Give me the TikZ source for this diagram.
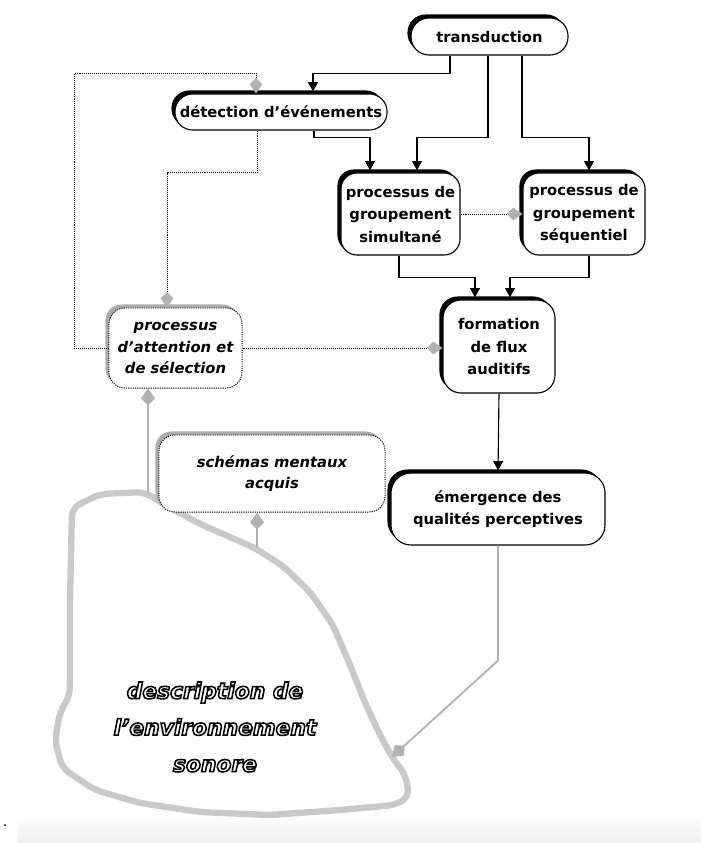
\documentclass[tikz,border=0pt]{standalone}
\usepackage{fontspec}
\setmainfont{DejaVu Sans}
\usetikzlibrary{arrows.meta,shadows,positioning,calc}

% outline text
\newcommand\hollow[1]{\special{pdf:literal direct 1 Tr 1.1 w}#1\special{pdf:literal direct 0 Tr}}

\tikzset{
  boldbox/.style={draw, line width=0.8pt, fill=white, align=center, inner sep=0pt,
    font=\fontsize{10.5}{16}\selectfont\bfseries,
    general shadow={fill=black, shadow xshift=-2.5pt, shadow yshift=2.5pt}},
  dotbox/.style={draw, line width=0.7pt, dash pattern=on 0.8pt off 0.8pt, fill=white,
    align=center, inner sep=0pt, font=\fontsize{10.5}{15}\selectfont\bfseries\itshape,
    general shadow={fill=gray!65, shadow xshift=-2.5pt, shadow yshift=2.5pt}},
  flow/.style={line width=0.8pt, -{Triangle[width=7pt,length=6.5pt]}, shorten >=1.5pt},
  hint/.style={line width=0.7pt, dash pattern=on 0.7pt off 0.7pt,
    -{Kite[width=9pt,length=11pt,inset=4.5pt,color=gray!60]}},
  feed/.style={gray!60, line width=1.3pt, -{Kite[width=10pt,length=12pt,inset=5pt]}},
}

\begin{document}
\begin{tikzpicture}[x=0.025cm, y=-0.025cm]
    \useasboundingbox (0,0) rectangle (701,843);

    % screen strip
    \shade [top color=white, bottom color=gray!12] (18,812) rectangle (701,843);
    \node (dot) at (5,826) {.};

    % sound scene
    \draw [gray!42, line width=4.5pt, rounded corners=6pt]
        (72,508) -- (100,494) -- (145,492) -- (160,502) -- (200,524) -- (255,548)
        -- (283,566) -- (310,592) -- (333,625) -- (350,665) -- (366,705) -- (380,735)
        -- (392,757) -- (406,776) -- (409,797) -- (395,805) -- (340,810) -- (270,815)
        -- (200,812) -- (140,803) -- (95,790) -- (62,768) -- (55,740) -- (60,712)
        -- (70,695) -- (70,600) -- cycle;
    \coordinate (sceneA) at (148,492);
    \coordinate (sceneB) at (257,547);
    \coordinate (sceneIn) at (392,757);

    % boxes
    \node [boldbox, minimum width=3.925cm, minimum height=0.925cm, rounded corners=0.45cm]
        (trans) at (489.5,36.5) {transduction};
    \node [boldbox, minimum width=5.3cm, minimum height=0.9cm, rounded corners=0.44cm]
        (det) at (281,112) {détection d'événements};
    \node [boldbox, minimum width=2.975cm, minimum height=2.05cm, rounded corners=0.4cm]
        (sim) at (400.5,214) {processus de\\groupement\\simultané};
    \node [boldbox, minimum width=3.05cm, minimum height=2.05cm, rounded corners=0.4cm]
        (seq) at (584,214) {processus de\\groupement\\séquentiel};
    \node [dotbox, minimum width=3.325cm, minimum height=2cm, rounded corners=0.4cm]
        (att) at (175.5,348) {processus\\d'attention et\\de sélection};
    \node [boldbox, minimum width=2.8cm, minimum height=2.325cm, rounded corners=0.45cm]
        (form) at (499,346.5) {formation\\de flux\\auditifs};
    \node [dotbox, minimum width=5.65cm, minimum height=1.925cm, rounded corners=0.4cm]
        (schem) at (272,473.5) {schémas mentaux\\acquis};
    \node [boldbox, minimum width=5.35cm, minimum height=1.8cm, rounded corners=0.5cm]
        (emer) at (498,509) {émergence des\\qualités perceptives};

    % solid flow
    \draw [flow] ([shift={(-39.5,0)}]trans.south) -- ++(0,18) -| ([shift={(32,0)}]det.north);
    \draw [flow] ([shift={(-1.5,0)}]trans.south) -- ++(0,82) -| ([shift={(16.5,0)}]sim.north);
    \draw [flow] ([shift={(32.5,0)}]trans.south) -- ++(0,82) -| ([shift={(5,0)}]seq.north);
    \draw [flow] ([shift={(33,0)}]det.south) -- ++(0,7) -| ([shift={(-30.5,0)}]sim.north);
    \draw [flow] ([shift={(-1.5,0)}]sim.south) -- ++(0,22) -| ([shift={(-24,0)}]form.north);
    \draw [flow] ([shift={(5,0)}]seq.south) -- ++(0,22) -| ([shift={(11,0)}]form.north);
    \draw [flow] (form.south) -- (emer.north);

    % dotted hints
    \draw [hint] (att.west) -- ++(-34,0) -- ++(0,-275) -| ([shift={(-25,0)}]det.north);
    \draw [hint] ([shift={(-24,0)}]det.south) -- ++(0,42) -| ([shift={(-8.5,0)}]att.north);
    \draw [hint] (att.east) -- (att.east -| form.west);
    \draw [hint] (sim.east) -- (seq.west);

    % from and to the scene
    \draw [feed] (sceneA) -- (sceneA |- att.south);
    \draw [feed] (sceneB) -- (sceneB |- schem.south);
    \draw [feed] (emer.south) -- ++(0,115) -- (sceneIn);

    % scene label, last
    \node [align=center, font=\fontsize{15.5}{26}\selectfont\bfseries\itshape]
        (scene) at (215,727)
        {\hollow{description de}\\\hollow{l'environnement}\\\hollow{sonore}};
\end{tikzpicture}
\end{document}
